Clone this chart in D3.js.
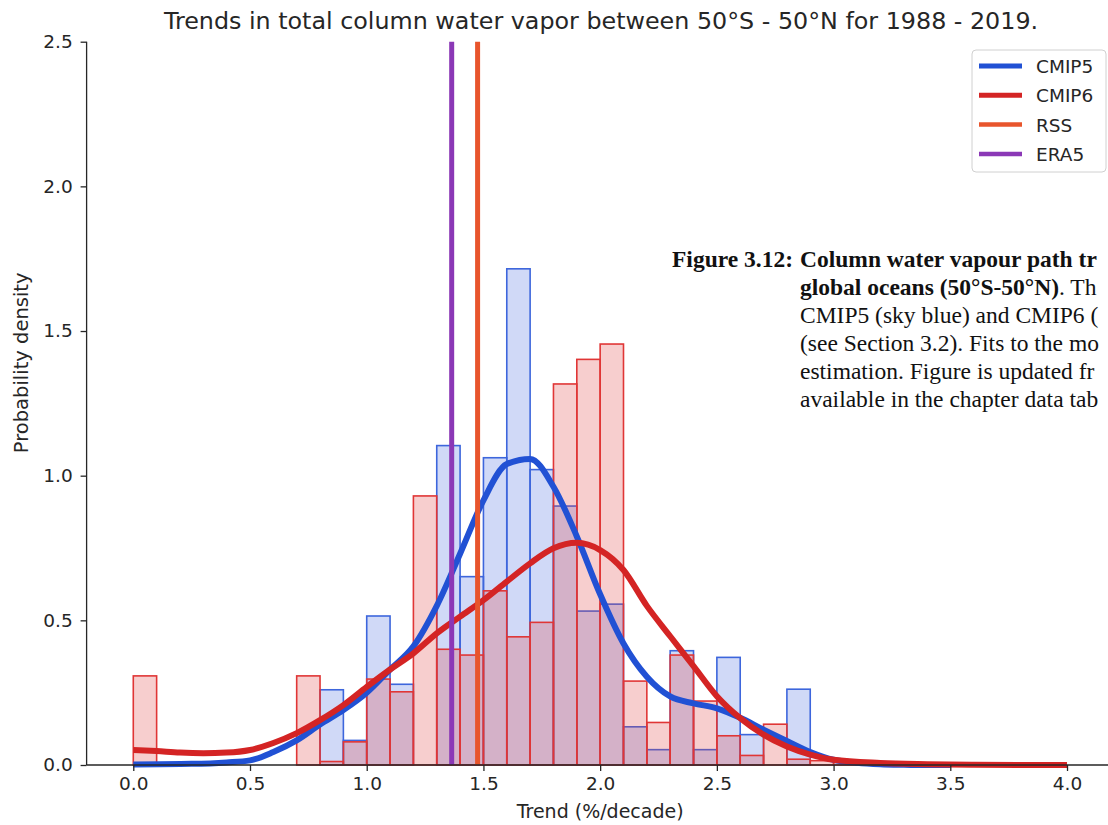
<!DOCTYPE html>
<html>
<head>
<meta charset="utf-8">
<script src="https://cdn.jsdelivr.net/npm/d3@7"></script>
<style>
  html, body { margin: 0; padding: 0; background: #fff; }
  svg { display: block; }
</style>
</head>
<body>
<svg id="chart" width="1108" height="825"></svg>
<script>
// ---------------- DATA ----------------
const binStarts = [0.0,0.1,0.2,0.3,0.4,0.5,0.6,0.7,0.8,0.9,1.0,1.1,1.2,1.3,1.4,1.5,1.6,1.7,1.8,1.9,2.0,2.1,2.2,2.3,2.4,2.5,2.6,2.7,2.8,2.9,3.0];
const binWidth = 0.1;
const cmip5Hist = [0,0,0,0,0,0,0,0,0.26,0.085,0.515,0.279,0,1.104,0.651,1.062,1.715,1.021,0.895,0.532,0.556,0.132,0.053,0.395,0.053,0.372,0.105,0,0.262,0,0];
const cmip6Hist = [0.308,0,0,0,0,0,0,0.308,0.012,0.08,0.297,0.253,0.93,0.40,0.38,0.602,0.443,0.493,1.317,1.402,1.455,0.29,0.147,0.38,0.221,0.101,0.033,0.141,0.02,0.015,0.011];

const cmip5KdeX = [0.0,0.25,0.4,0.5,0.6,0.7,0.8,0.9,1.0,1.1,1.2,1.3,1.4,1.5,1.6,1.7,1.8,1.9,2.0,2.1,2.2,2.3,2.4,2.5,2.6,2.7,2.8,2.9,3.0,3.1,3.2,3.3,3.4,3.5];
const cmip5KdeY = [0.002,0.004,0.009,0.016,0.045,0.085,0.14,0.19,0.25,0.33,0.41,0.55,0.73,0.915,1.04,1.058,0.962,0.79,0.59,0.42,0.305,0.237,0.213,0.196,0.163,0.122,0.083,0.045,0.018,0.008,0.003,0.001,0.0,0.0];
const cmip6KdeX = [0.0,0.1,0.2,0.3,0.4,0.5,0.6,0.7,0.8,0.9,1.0,1.1,1.2,1.3,1.4,1.5,1.6,1.7,1.8,1.9,2.0,2.1,2.2,2.3,2.4,2.5,2.6,2.7,2.8,2.9,3.0,3.2,3.4,3.6,3.8,4.0];
const cmip6KdeY = [0.052,0.048,0.043,0.041,0.043,0.052,0.076,0.11,0.155,0.207,0.27,0.33,0.386,0.455,0.513,0.57,0.634,0.697,0.749,0.768,0.743,0.674,0.55,0.445,0.342,0.238,0.162,0.105,0.064,0.036,0.018,0.007,0.003,0.001,0.0,0.0];

const rssTrend = 1.475;
const era5Trend = 1.364;

const xTicks = [0.0,0.5,1.0,1.5,2.0,2.5,3.0,3.5,4.0];
const yTicks = [0.0,0.5,1.0,1.5,2.0,2.5];

const legendLabels = ["CMIP5","CMIP6","RSS","ERA5"];
const titleText = "Trends in total column water vapor between 50°S - 50°N for 1988 - 2019.";
const xLabel = "Trend (%/decade)";
const yLabel = "Probability density";

// overlaid document caption (as visible in the picture, cut by the right edge)
const captionHead = "Figure 3.12:";
const captionLines = [
  [["Column water vapour path tr", true]],
  [["global oceans (50°S-50°N)", true], [". Th", false]],
  [["CMIP5 (sky blue) and CMIP6 (", false]],
  [["(see Section 3.2). Fits to the mo", false]],
  [["estimation. Figure is updated fr", false]],
  [["available in the chapter data tab", false]]
];

// ---------------- STYLE ----------------
const C = {
  blue: "#2151d4", blueEdge: "#3d66dc", blueFill: "rgba(66,105,222,0.25)",
  red: "#d42424", redEdge: "#e03636", redFill: "rgba(224,60,60,0.25)",
  rss: "#e8552c", era5: "#8b38b6", axis: "#262626"
};

const svg = d3.select("#chart");
const x = d3.scaleLinear().domain([-0.2, 4.2]).range([86.6, 1113.7]);
const y = d3.scaleLinear().domain([0, 2.5]).range([765, 41.7]);

// histograms
function drawHist(vals, fill, edge) {
  const data = binStarts.map((b, i) => ({b, v: vals[i]})).filter(d => d.v > 0);
  svg.append("g").selectAll("rect").data(data).join("rect")
    .attr("x", d => x(d.b))
    .attr("y", d => y(d.v))
    .attr("width", d => x(d.b + binWidth) - x(d.b))
    .attr("height", d => y(0) - y(d.v))
    .attr("fill", fill)
    .attr("stroke", edge)
    .attr("stroke-width", 1.6);
}
drawHist(cmip5Hist, C.blueFill, C.blueEdge);
drawHist(cmip6Hist, C.redFill, C.redEdge);

// KDE lines
const line = d3.line().x(d => x(d[0])).y(d => y(d[1])).curve(d3.curveMonotoneX);
svg.append("path").datum(cmip5KdeX.map((v, i) => [v, cmip5KdeY[i]]))
  .attr("d", line).attr("fill", "none").attr("stroke", C.blue)
  .attr("stroke-width", 6).attr("stroke-linejoin", "round");
svg.append("path").datum(cmip6KdeX.map((v, i) => [v, cmip6KdeY[i]]))
  .attr("d", line).attr("fill", "none").attr("stroke", C.red)
  .attr("stroke-width", 6).attr("stroke-linejoin", "round");

// vertical lines
[[rssTrend, C.rss], [era5Trend, C.era5]].forEach(([v, c]) => {
  svg.append("line").attr("x1", x(v)).attr("x2", x(v))
    .attr("y1", y(0)).attr("y2", y(2.5))
    .attr("stroke", c).attr("stroke-width", 5);
});

// axes
const fontSans = "DejaVu Sans, sans-serif";
const xAxis = svg.append("g").attr("transform", `translate(0,${y(0)})`)
  .call(d3.axisBottom(x).tickValues(xTicks).tickFormat(d3.format(".1f")).tickSize(6).tickPadding(6));
const yAxis = svg.append("g").attr("transform", `translate(${x(-0.2)},0)`)
  .call(d3.axisLeft(y).tickValues(yTicks).tickFormat(d3.format(".1f")).tickSize(6).tickPadding(6));
[xAxis, yAxis].forEach(g => {
  g.select(".domain").attr("stroke", C.axis).attr("stroke-width", 1.3);
  g.selectAll(".tick line").attr("stroke", C.axis).attr("stroke-width", 1.3);
  g.selectAll(".tick text").attr("fill", C.axis).attr("font-family", fontSans).attr("font-size", 18.5);
});
yAxis.selectAll(".tick text").attr("dx", "-0.1em");
xAxis.select(".domain").attr("d", `M${x(-0.2)},0H${x(4.2)}`);
yAxis.select(".domain").attr("d", `M0,${y(0)}V${y(2.5)}`);

// labels
svg.append("text").attr("x", x(2.0)).attr("y", 818).attr("text-anchor", "middle")
  .attr("font-family", fontSans).attr("font-size", 19).attr("fill", C.axis).text(xLabel);
svg.append("text").attr("transform", `translate(28,${y(1.39)}) rotate(-90)`).attr("text-anchor", "middle")
  .attr("font-family", fontSans).attr("font-size", 19.5).attr("fill", C.axis).text(yLabel);
svg.append("text").attr("x", 601).attr("y", 29).attr("text-anchor", "middle")
  .attr("font-family", fontSans).attr("font-size", 23.8).attr("fill", C.axis).text(titleText);

// legend
const lg = svg.append("g");
lg.append("rect").attr("x", 972).attr("y", 50).attr("width", 134).attr("height", 122)
  .attr("rx", 4).attr("fill", "rgba(255,255,255,0.85)").attr("stroke", "#d0d0d0");
const legendColors = [C.blue, C.red, C.rss, C.era5];
const legendWidths = [5, 5, 4.5, 4.5];
legendLabels.forEach((lab, i) => {
  const cy = 66 + i * 29.3;
  lg.append("line").attr("x1", 979).attr("x2", 1022).attr("y1", cy).attr("y2", cy)
    .attr("stroke", legendColors[i]).attr("stroke-width", legendWidths[i]);
  lg.append("text").attr("x", 1036).attr("y", cy + 7).attr("font-family", fontSans)
    .attr("font-size", 18.5).attr("fill", C.axis).text(lab);
});

// caption text
const cap = svg.append("g").attr("font-family", "Liberation Serif, Times New Roman, serif")
  .attr("font-size", 23.5).attr("fill", "#111");
cap.append("text").attr("x", 672).attr("y", 267).attr("font-weight", "bold").text(captionHead);
captionLines.forEach((parts, i) => {
  const t = cap.append("text").attr("x", 800).attr("y", 267 + i * 28);
  parts.forEach(([s, b]) => t.append("tspan").attr("font-weight", b ? "bold" : "normal").text(s));
});
</script>
</body>
</html>
